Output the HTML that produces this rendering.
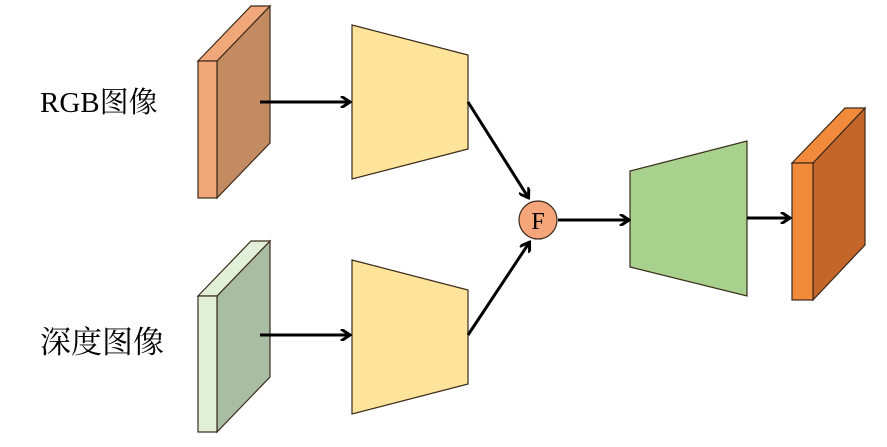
<!DOCTYPE html>
<html><head><meta charset="utf-8"><style>body{margin:0;background:#fff}</style></head><body>
<svg width="887" height="442" xmlns="http://www.w3.org/2000/svg">
<defs><marker id="a" markerWidth="12" markerHeight="12" refX="9" refY="6" orient="auto" markerUnits="userSpaceOnUse"><path d="M1,0 L10,6 L1,12" fill="none" stroke="#000" stroke-width="3"/></marker></defs>
<g stroke="#3a2a1a" stroke-width="1.2">
<polygon points="217,61 270,6 270,143 217,198" fill="#c38b62"/>
<polygon points="198,61 251,6 270,6 217,61" fill="#f0a77a"/>
<rect x="198" y="61" width="19" height="137" fill="#f0a77a"/>
<polygon points="217,296 270,241 270,377 217,432" fill="#a9bca4"/>
<polygon points="198,296 251,241 270,241 217,296" fill="#e3f0d9"/>
<rect x="198" y="296" width="19" height="136" fill="#e3f0d9"/>
<polygon points="813,163 865,108 865,245 813,300" fill="#c4652a"/>
<polygon points="792,163 845,108 865,108 813,163" fill="#f28a3c"/>
<rect x="792" y="163" width="21" height="137" fill="#f28a3c"/>
<polygon points="352,25 468,55 468,149 352,179" fill="#fde49a"/>
<polygon points="352,260 468,290 468,384 352,414" fill="#fde49a"/>
<polygon points="630,171 747,141 747,296 630,267" fill="#a8d18e"/>
<circle cx="538" cy="220" r="19" fill="#f4a57a"/>
</g>
<g stroke="#000" stroke-width="3" fill="none" marker-end="url(#a)">
<line x1="260" y1="102" x2="349" y2="102"/>
<line x1="260" y1="335" x2="349" y2="335"/>
<line x1="468" y1="102" x2="528" y2="197"/>
<line x1="468" y1="335" x2="529" y2="243"/>
<line x1="558" y1="220" x2="628" y2="220"/>
<line x1="747" y1="218" x2="789" y2="218"/>
</g>
<text x="538" y="229" font-family="Liberation Serif,serif" font-size="24" text-anchor="middle">F</text>
<text x="40" y="112" font-family="Liberation Serif,'Noto Serif CJK SC',serif" font-size="29">RGB图像</text>
<text x="40" y="353" font-family="Liberation Serif,'Noto Serif CJK SC',serif" font-size="31">深度图像</text>
</svg>
</body></html>
